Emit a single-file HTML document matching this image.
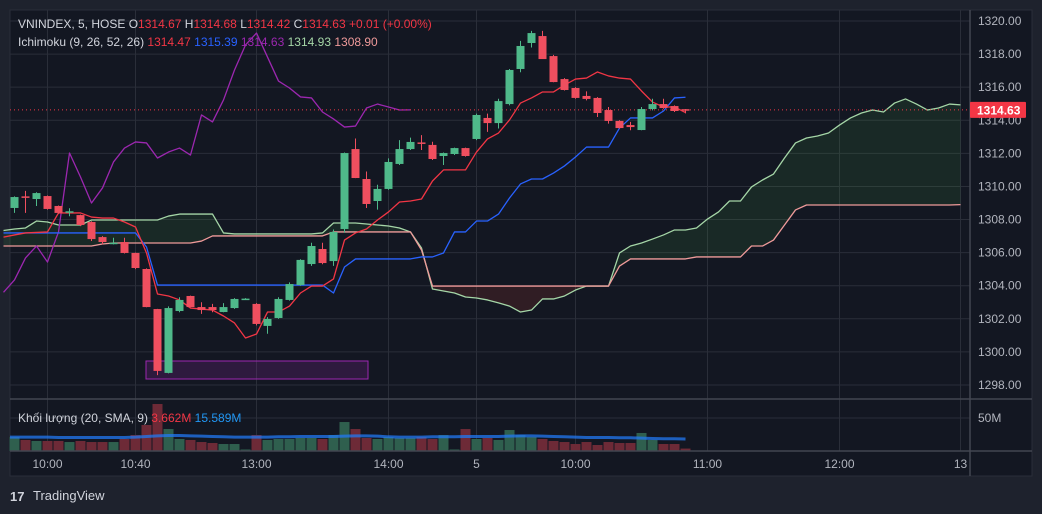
<!DOCTYPE html>
<html><head><meta charset="utf-8">
<style>
html,body{margin:0;padding:0;background:#1e222d;width:1042px;height:514px;overflow:hidden;font-family:"Liberation Sans","Noto Sans CJK JP",sans-serif;}
svg text{font-family:"Liberation Sans","Noto Sans CJK JP",sans-serif;}
</style></head>
<body>
<svg id="chart" width="1042" height="514" xmlns="http://www.w3.org/2000/svg">
  <rect x="0" y="0" width="1042" height="514" fill="#1e222d"/>
  <rect x="10" y="10" width="1022" height="466" fill="#131722" stroke="#2a2e39"/>
  <g id="grid"></g>
  <g id="cloud"></g>
  <rect x="146" y="361" width="222" height="18" fill="rgba(156,39,176,0.2)" stroke="#9c27b0" stroke-width="1"/>
  <g id="lines"></g>
  <g id="candles"></g>
  <g id="volume"></g>
  <g id="axes"></g>
  <g font-size="12">
    <text x="18" y="28" fill="#d1d4dc">VNINDEX, 5, HOSE <tspan fill="#d1d4dc">O</tspan><tspan fill="#f23645">1314.67</tspan> <tspan fill="#d1d4dc">H</tspan><tspan fill="#f23645">1314.68</tspan> <tspan fill="#d1d4dc">L</tspan><tspan fill="#f23645">1314.42</tspan> <tspan fill="#d1d4dc">C</tspan><tspan fill="#f23645">1314.63</tspan> <tspan fill="#f23645">+0.01 (+0.00%)</tspan></text>
    <text x="18" y="46" fill="#d1d4dc">Ichimoku (9, 26, 52, 26) <tspan fill="#f23645">1314.47</tspan> <tspan fill="#2962ff">1315.39</tspan> <tspan fill="#9c27b0">1314.63</tspan> <tspan fill="#a5d6a7">1314.93</tspan> <tspan fill="#ef9a9a">1308.90</tspan></text>
    <text x="18" y="422" fill="#d1d4dc">Khối lượng (20, SMA, 9) <tspan fill="#f23645">3.662M</tspan> <tspan fill="#2196f3">15.589M</tspan></text>
  </g>
  <g>
    <text x="10" y="501" fill="#d1d4dc" font-size="13" font-weight="bold">17</text>
    <text x="33" y="500" fill="#d1d4dc" font-size="13">TradingView</text>
  </g>
</svg>
<script>
// ---- data ----
const opens  = [1308.70,1309.40,1309.24,1309.42,1308.82,1308.44,1308.27,1307.85,1306.94,1306.56,1306.64,1305.98,1305.01,1302.59,1298.73,1302.47,1303.38,1302.71,1302.71,1302.41,1302.65,1303.18,1302.90,1301.57,1302.05,1303.14,1304.04,1305.31,1306.22,1305.49,1307.43,1312.26,1310.45,1309.12,1309.85,1311.36,1312.26,1312.66,1312.51,1311.84,1311.96,1312.32,1312.87,1314.14,1313.83,1314.98,1317.10,1318.67,1319.09,1317.88,1316.49,1315.95,1315.47,1315.35,1314.62,1313.96,1313.71,1313.41,1314.68,1314.98,1314.86,1314.67];
const highs  = [1309.40,1309.73,1309.65,1309.45,1308.85,1308.68,1308.30,1307.90,1307.00,1306.90,1306.90,1306.00,1305.05,1302.60,1302.75,1303.30,1303.40,1303.00,1302.90,1302.95,1303.25,1303.25,1302.95,1302.10,1303.30,1304.20,1305.60,1306.60,1306.60,1307.40,1312.05,1312.90,1310.90,1310.10,1311.70,1312.80,1312.95,1313.10,1312.70,1312.05,1312.35,1312.35,1314.40,1314.40,1315.30,1317.10,1318.80,1319.40,1319.40,1317.95,1316.55,1316.00,1315.75,1315.40,1314.80,1314.00,1313.90,1314.80,1315.30,1315.30,1314.90,1314.68];
const lows   = [1308.40,1308.40,1308.82,1308.60,1308.35,1308.20,1307.60,1306.70,1306.50,1306.50,1305.95,1305.00,1302.70,1298.60,1298.70,1302.40,1302.70,1302.30,1302.40,1302.40,1302.60,1303.15,1301.60,1301.10,1302.00,1303.10,1304.00,1305.20,1305.30,1305.20,1307.20,1310.50,1308.70,1308.60,1309.80,1311.30,1312.20,1312.20,1311.60,1311.30,1311.90,1311.80,1312.80,1313.30,1313.50,1314.90,1316.90,1318.40,1317.70,1316.30,1315.80,1315.30,1315.20,1314.20,1313.80,1313.50,1313.40,1313.40,1314.60,1314.70,1314.50,1314.42];
const closes = [1309.36,1309.36,1309.60,1308.64,1308.40,1308.50,1307.67,1306.82,1306.64,1306.60,1305.98,1305.07,1302.71,1298.85,1302.65,1303.14,1302.71,1302.53,1302.53,1302.71,1303.20,1303.22,1301.69,1301.99,1303.20,1304.10,1305.56,1306.40,1305.37,1307.25,1312.02,1310.51,1308.94,1309.85,1311.48,1312.26,1312.69,1312.63,1311.66,1312.02,1312.32,1311.84,1314.32,1313.83,1315.16,1317.04,1318.49,1319.27,1317.70,1316.31,1315.83,1315.35,1315.29,1314.44,1313.96,1313.53,1313.59,1314.68,1314.98,1314.74,1314.56,1314.63];
const volumes = [21.2,16.7,15.2,15.2,15.2,13.6,15.2,13.6,13.6,13.6,18.2,24.2,39.4,71.2,33.3,18.2,16.7,13.6,12.1,10.6,10.6,2.3,24.2,16.7,18.2,18.2,19.7,19.7,18.2,24.2,43.9,33.3,19.7,18.2,21.2,19.7,19.7,21.2,18.2,24.2,2.3,33.3,18.2,19.7,16.7,31.8,24.2,21.2,18.2,15.2,13.6,10.6,13.6,9.1,13.6,12.1,12.1,27.3,16.7,10.6,10.6,3.7];
const volSma = [21,21,21,21,20.5,20.5,20.5,20.5,20.5,20.5,20.5,21,22,23,23.5,23.5,23,22.5,22,21.5,21,21,21,21,21.5,21.5,22,22,22,22,22.5,23,23,22.5,21.5,21,21,21,21.5,21.5,21.5,22,22,22,22,22.5,23,23,22.5,22,21.5,21,20.5,20.5,20.5,20,20,19.5,19,18.5,18.5,18.2];
// line series: start index -1
const tenkan = [1306.94,1307.07,1307.19,1307.22,1307.25,1308.40,1308.40,1308.40,1308.15,1308.09,1308.09,1307.85,1307.55,1305.98,1303.50,1303.38,1303.14,1302.65,1302.59,1302.53,1302.17,1301.75,1300.84,1301.08,1302.41,1302.41,1302.77,1303.56,1303.98,1303.98,1304.41,1306.76,1307.19,1307.43,1307.97,1308.46,1309.06,1309.12,1309.24,1310.33,1311.00,1311.00,1311.00,1312.08,1312.87,1313.23,1314.02,1315.04,1315.35,1315.71,1315.71,1316.13,1316.49,1316.55,1316.92,1316.68,1316.55,1316.49,1315.77,1315.10,1314.80,1314.80,1314.47];
const kijun = [1307.19,1307.19,1307.19,1307.19,1307.19,1307.19,1307.19,1307.19,1307.19,1307.19,1307.19,1307.19,1307.19,1306.34,1304.04,1304.04,1304.04,1304.04,1304.04,1304.04,1304.04,1304.04,1304.04,1304.04,1304.04,1304.04,1304.04,1304.04,1304.04,1304.04,1303.56,1305.13,1305.62,1305.62,1305.62,1305.62,1305.62,1305.62,1305.74,1305.74,1305.98,1307.25,1307.25,1307.91,1307.91,1308.33,1309.30,1310.15,1310.45,1310.45,1310.81,1311.24,1311.78,1312.38,1312.38,1312.38,1313.53,1314.14,1314.14,1314.14,1314.56,1315.35,1315.39];
const chikou = [1303.60,1304.35,1305.68,1306.40,1305.43,1307.25,1312.02,1310.57,1309.00,1309.91,1311.48,1312.32,1312.69,1312.63,1311.72,1312.08,1312.32,1311.90,1314.32,1313.90,1315.23,1317.04,1318.55,1319.27,1317.82,1316.37,1315.95,1315.41,1315.35,1314.50,1314.08,1313.59,1313.65,1314.74,1314.98,1314.80,1314.62,1314.63];
const spanA = [1307.34,1307.43,1307.49,1307.91,1307.85,1307.67,1307.67,1307.67,1307.97,1307.97,1307.97,1307.97,1307.97,1307.97,1307.97,1308.21,1308.33,1308.33,1308.33,1308.33,1307.19,1307.13,1307.13,1307.13,1307.13,1307.13,1307.13,1307.13,1307.13,1307.19,1307.79,1307.79,1307.79,1307.73,1307.67,1307.61,1307.49,1307.25,1306.28,1303.80,1303.68,1303.56,1303.32,1303.26,1303.14,1302.96,1302.77,1302.41,1302.53,1303.20,1303.20,1303.38,1303.74,1303.98,1303.98,1303.98,1305.98,1306.40,1306.58,1306.82,1307.07,1307.37,1307.37,1307.49,1308.03,1308.46,1309.12,1309.12,1309.97,1310.39,1310.75,1311.72,1312.63,1312.93,1313.05,1313.23,1313.71,1314.14,1314.44,1314.62,1314.50,1315.04,1315.29,1314.98,1314.62,1314.74,1314.98,1314.93];
const spanB = [1306.40,1306.40,1306.40,1306.40,1306.40,1306.40,1306.40,1306.40,1306.40,1306.52,1306.58,1306.58,1306.58,1306.58,1306.58,1306.58,1306.58,1306.58,1306.70,1307.01,1307.01,1307.01,1307.01,1307.01,1307.01,1307.01,1307.01,1307.01,1307.01,1307.01,1307.25,1307.25,1307.25,1307.25,1307.25,1307.25,1307.25,1307.25,1306.16,1303.98,1303.98,1303.98,1303.98,1303.98,1303.98,1303.98,1303.98,1303.98,1303.98,1303.98,1303.98,1303.98,1303.98,1303.98,1303.98,1303.98,1305.19,1305.62,1305.62,1305.62,1305.62,1305.62,1305.62,1305.74,1305.74,1305.74,1305.74,1305.74,1306.40,1306.40,1306.76,1307.67,1308.58,1308.88,1308.88,1308.88,1308.88,1308.88,1308.88,1308.88,1308.88,1308.88,1308.88,1308.88,1308.88,1308.88,1308.88,1308.90];
const priceTicks = [1320,1318,1316,1314,1312,1310,1308,1306,1304,1302,1300,1298];
const timeLabels = ["10:00","10:40","13:00","14:00","5","10:00","11:00","12:00","13"];
const timeIdx = [3,11,22,34,42,51,63,75,86];
const lastPrice = 1314.63;

// ---- scales ----
const NS="http://www.w3.org/2000/svg";
const xOf = i => 14.5 + 11*i;
const yOf = p => 21 + (1320 - p)*16.545;
const vBase = 451, vScale = 0.66;
const yVol = v => vBase - v*vScale;
function mk(tag, attrs, parent){const e=document.createElementNS(NS,tag);for(const k in attrs)e.setAttribute(k,attrs[k]);parent.appendChild(e);return e;}
const G = id => document.getElementById(id);

// grid
const grid=G('grid');
priceTicks.forEach(p=>{
  const l=mk('line',{x1:10,x2:970,y1:yOf(p),y2:yOf(p),stroke:'#2a2e39','stroke-width':1},grid);
  
  
});
timeIdx.forEach(i=>{
  const l=mk('line',{x1:xOf(i),x2:xOf(i),y1:10,y2:451,stroke:'#2a2e39','stroke-width':1},grid);
  
  
});
const vg=mk('line',{x1:10,x2:970,y1:vBase-50*vScale,y2:vBase-50*vScale,stroke:'#2a2e39'},grid);



// cloud
const cloud=G('cloud');
for(let k=0;k<spanA.length-1;k++){
  const a0=spanA[k],a1=spanA[k+1],b0=spanB[k],b1=spanB[k+1];
  const x0=xOf(k-1),x1=xOf(k);
  const up=(a0+a1)>=(b0+b1);
  const poly=mk('polygon',{points:`${x0},${yOf(a0)} ${x1},${yOf(a1)} ${x1},${yOf(b1)} ${x0},${yOf(b0)}`,fill:up?'rgba(67,160,71,0.13)':'rgba(244,67,54,0.13)',stroke:'none'},cloud);
  
  
}
// lines
const lines=G('lines');
function series(arr,color,name,w){
  const pts=arr.map((v,k)=>`${xOf(k-1)},${yOf(v)}`).join(' ');
  const pl=mk('polyline',{points:pts,fill:'none',stroke:color,'stroke-width':w||1.3,'stroke-linejoin':'round'},lines);
  
  
}
series(spanA,'#a5d6a7','leading-span-a');
series(spanB,'#ef9a9a','leading-span-b');
series(chikou,'#9c27b0','lagging-span');
series(kijun,'#2962ff','base-line');
series(tenkan,'#f23645','conversion-line');

// price line
const pline=mk('line',{x1:10,x2:970,y1:yOf(lastPrice),y2:yOf(lastPrice),stroke:'#f23645','stroke-width':1,'stroke-dasharray':'1,3'},lines);



// candles
const cg=G('candles');
opens.forEach((o,i)=>{
  const c=closes[i],up=c>=o,col=up?'#4fb98a':'#ef4f5f',x=xOf(i);
  const w=mk('line',{x1:x,x2:x,y1:yOf(highs[i]),y2:yOf(lows[i]),stroke:col,'stroke-width':1},cg);
  
  
  const top=yOf(Math.max(o,c)),bot=yOf(Math.min(o,c));
  const b=mk('rect',{x:x-4,y:top,width:8,height:Math.max(1.5,bot-top),fill:col},cg);
  
  
});

// volume
const vgp=G('volume');
volumes.forEach((v,i)=>{
  const up=closes[i]>=opens[i];
  const r=mk('rect',{x:xOf(i)-5,y:yVol(v),width:10,height:v*vScale,fill:up?'#2f5f4e':'#6d2a37'},vgp);
  
  
});
const smaPts=volSma.map((v,i)=>`${xOf(i)},${yVol(v)}`).join(' ');
const sma=mk('polyline',{points:`10,${yVol(volSma[0])} `+smaPts,fill:'none',stroke:'rgba(33,120,243,0.75)','stroke-width':3},vgp);



// axes
const ax=G('axes');
const sep=mk('line',{x1:10,x2:1032,y1:399,y2:399,stroke:'#434651','stroke-width':1.5},ax);


const tsep=mk('line',{x1:10,x2:1032,y1:451,y2:451,stroke:'#434651','stroke-width':1.5},ax);


const psep=mk('line',{x1:970,x2:970,y1:10,y2:476,stroke:'#434651','stroke-width':1.5},ax);


priceTicks.forEach(p=>{
  const t=mk('text',{x:978,y:yOf(p)+4,fill:'#b2b5be','font-size':12},ax);
  t.textContent=p.toFixed(2);
  
  
});
const vl=mk('text',{x:978,y:vBase-50*vScale+4,fill:'#b2b5be','font-size':12},ax);
vl.textContent='50M';


timeLabels.forEach((s,k)=>{
  const x=xOf(timeIdx[k]);
  const t=mk('text',{x:x,y:468,fill:'#b2b5be','font-size':12,'text-anchor':'middle'},ax);
  t.textContent=s;
  
  
});
const pb=mk('rect',{x:970,y:yOf(lastPrice)-8,width:56,height:16,fill:'#f23645',rx:1},ax);


const pt=mk('text',{x:977,y:yOf(lastPrice)+4.5,fill:'#ffffff','font-size':12,'font-weight':'bold'},ax);
pt.textContent=lastPrice.toFixed(2);


</script>
</body></html>
